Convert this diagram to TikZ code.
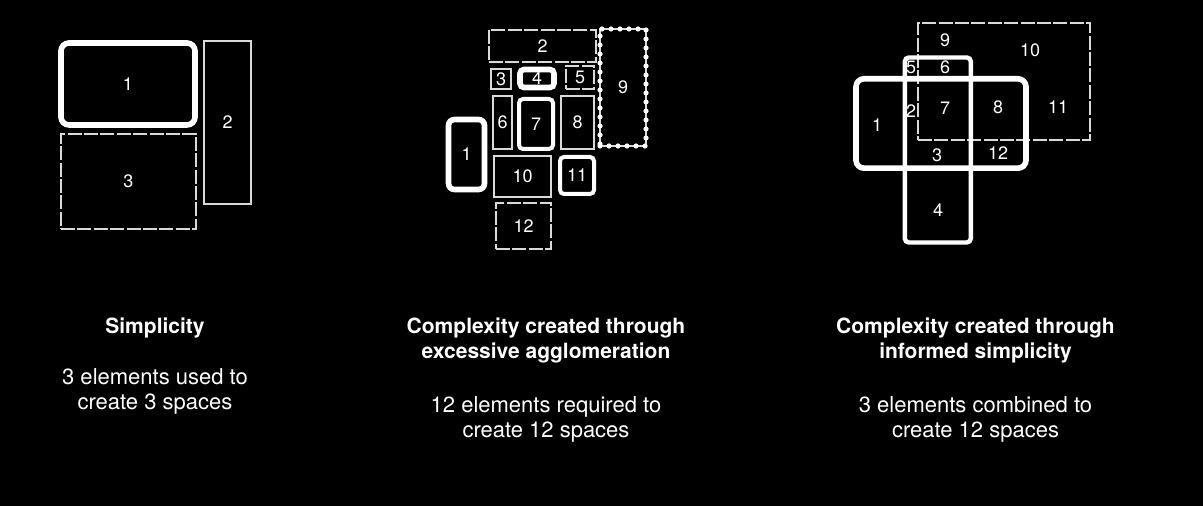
\documentclass[tikz,border=0pt]{standalone}
\usepackage{fontspec}
\setmainfont{TeX Gyre Heros}
\usetikzlibrary{positioning}
\definecolor{slideBg}{HTML}{000000}
\definecolor{inkHeavy}{HTML}{FFFFFF}
\definecolor{inkLight}{HTML}{D9D9D9}
\tikzset{
  heavy/.style={
    draw=inkHeavy, line width=2.8pt, rounded corners=4pt, text=white,
    minimum width=#1, inner sep=0pt, font=\fontsize{9}{10}\selectfont},
  medium/.style={
    draw=inkHeavy, line width=2pt, rounded corners=2pt, text=white,
    minimum width=#1, inner sep=0pt, font=\fontsize{9}{10}\selectfont},
  light/.style={
    draw=inkLight, line width=1.1pt, text=white,
    minimum width=#1, inner sep=0pt, font=\fontsize{9}{10}\selectfont},
  lightdash/.style={
    light=#1, dash pattern=on 7pt off 1.2pt},
  beaded/.style={
    light=#1, postaction={draw=inkHeavy, line width=2.6pt, line cap=round,
    dash pattern=on 0pt off 4.5pt}},
  roomno/.style={text=white, font=\fontsize{9}{10}\selectfont, inner sep=0pt},
  title/.style={text=white, align=center, anchor=base,
    font=\fontsize{10.5}{12.5}\selectfont\bfseries},
  note/.style={text=white, align=center, anchor=base,
    font=\fontsize{11}{12.5}\selectfont},
}

\begin{document}
\begin{tikzpicture}[x=0.5pt, y=-0.5pt]

\fill[slideBg] (0,0) rectangle (1203,506);

% ---- simplicity
\node[heavy=67pt, minimum height=41pt]       (S1) at (128,84)    {1};
\node[light=23.5pt, minimum height=81.5pt]   (S2) at (227.5,122.5) {2};
\node[lightdash=67.5pt, minimum height=47.5pt] (S3) at (128.5,181.5) {3};

% ---- agglomeration
\node[lightdash=53.5pt, minimum height=16pt] (A2)  at (542.5,46)   {2};
\node[beaded=23pt, minimum height=58.5pt]    (A9)  at (623,87.5)   {9};
\node[light=10pt, minimum height=10pt]       (A3)  at (501,79)     {3};
\node[heavy=17pt, minimum height=9pt, rounded corners=2pt] (A4) at (537,78.5) {4};
\node[lightdash=14pt, minimum height=11.5pt] (A5)  at (580,77.5)   {5};
\node[light=9.5pt, minimum height=26.5pt]    (A6)  at (502.5,122.5) {6};
\node[medium=17pt, minimum height=25pt]      (A7)  at (536,124)    {7};
\node[light=16.5pt, minimum height=26.5pt]   (A8)  at (577.5,122.5) {8};
\node[heavy=18pt, minimum height=35pt, rounded corners=3pt] (A1) at (466.5,154.5) {1};
\node[light=28.5pt, minimum height=20.5pt]   (A10) at (522.5,176.5) {10};
\node[medium=17pt, minimum height=18.5pt]    (A11) at (577,175.5)  {11};
\node[lightdash=27.5pt, minimum height=23pt] (A12) at (523.5,226)  {12};

% ---- informed simplicity
\node[lightdash=86pt, minimum height=58.5pt] (CT) at (1004,81.5) {};
\node[heavy=85pt, minimum height=44.7pt]     (CH) at (941,123.5) {};
\node[medium=33pt, minimum height=92.5pt, line width=2.2pt] (CV) at (937.8,150) {};

\node[roomno] (R1)  at (877,125)  {1};
\node[roomno] (R2)  at (911,111)  {2};
\node[roomno] (R3)  at (937,155)  {3};
\node[roomno] (R4)  at (938,210)  {4};
\node[roomno] (R5)  at (911,67)   {5};
\node[roomno] (R6)  at (945,67)   {6};
\node[roomno] (R7)  at (945,108)  {7};
\node[roomno] (R8)  at (998,107)  {8};
\node[roomno] (R9)  at (945,40)   {9};
\node[roomno] (R10) at (1030,50)  {10};
\node[roomno] (R11) at (1058,107) {11};
\node[roomno] (R12) at (998,153)  {12};

% ---- captions (base = last line)
\node[title] (T1) at (155,333.5)   {Simplicity};
\node[note]  (N1) at (155,410)     {3 elements used to\\create 3 spaces};
\node[title] (T2) at (546,358.5)   {Complexity created through\\excessive agglomeration};
\node[note]  (N2) at (546,437.5)   {12 elements required to\\create 12 spaces};
\node[title] (T3) at (975.5,358.5) {Complexity created through\\informed simplicity};
\node[note]  (N3) at (975.5,437.5) {3 elements combined to\\create 12 spaces};

\end{tikzpicture}
\end{document}
